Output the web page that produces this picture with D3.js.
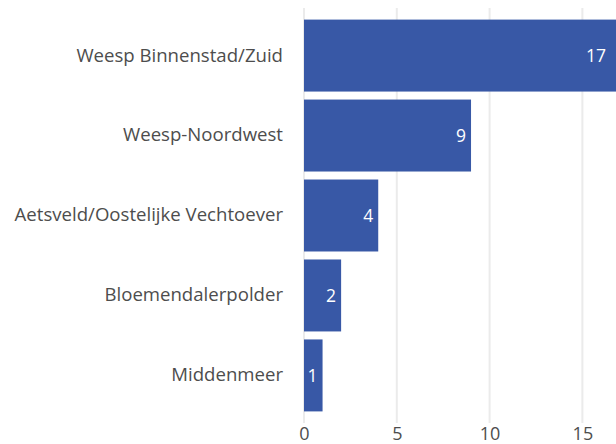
<!DOCTYPE html>
<html>
<head>
<meta charset="utf-8" />
<title>Bar chart</title>
<script src="https://d3js.org/d3.v7.min.js"></script>
<style>
  body { margin: 0; background: #fff; }
  text { font-family: "Open Sans", Lato, sans-serif; fill: #4d4d4d; }
</style>
</head>
<body>
<div id="chart"></div>
<script>
var categories = ["Weesp Binnenstad/Zuid", "Weesp-Noordwest", "Aetsveld/Oostelijke Vechtoever", "Bloemendalerpolder", "Middenmeer"];
var values = [17, 9, 4, 2, 1];
var xTicks = [0, 5, 10, 15];

var width = 616, height = 444;
var margin = { top: 8, right: 0, bottom: 21, left: 304 };

var svg = d3.select("#chart").append("svg")
    .attr("width", width)
    .attr("height", height);

// x scale runs a little past the window, so the 17 bar is cut at the edge
var x = d3.scaleLinear()
    .domain([0, 17])
    .range([margin.left, 619.5]);

var y = d3.scaleBand()
    .domain(categories)
    .range([margin.top, height - margin.bottom])
    .paddingInner(0.1)
    .paddingOuter(0.145);

// grid
svg.append("g")
    .selectAll("line")
    .data(xTicks)
    .enter().append("line")
    .attr("x1", function (d) { return x(d); })
    .attr("x2", function (d) { return x(d); })
    .attr("y1", margin.top)
    .attr("y2", height - margin.bottom)
    .style("stroke", "#ebebeb")
    .style("stroke-width", 2);

// bars
svg.append("g")
    .selectAll("rect")
    .data(values)
    .enter().append("rect")
    .attr("x", x(0))
    .attr("y", function (d, i) { return y(categories[i]); })
    .attr("width", function (d) { return x(d) - x(0); })
    .attr("height", y.bandwidth())
    .style("fill", "#3858a6");

// value labels
svg.append("g")
    .selectAll("text")
    .data(values)
    .enter().append("text")
    .attr("y", function (d, i) { return y(categories[i]) + y.bandwidth() / 2; })
    .attr("dy", "0.35em")
    .attr("text-anchor", "end")
    .style("font-size", "17.5px")
    .style("fill", "#ffffff")
    .text(function (d) { return d; })
    .attr("x", function (d) {
        var w = this.getComputedTextLength();
        return Math.min(x(d), width) - w * 0.5;
    });

// y axis labels
var yAxis = d3.axisLeft(y).tickSize(0).tickPadding(20);
svg.append("g")
    .attr("transform", "translate(" + (margin.left - 1) + ",0)")
    .call(yAxis)
    .call(function (g) { g.select(".domain").remove(); })
    .selectAll("text")
    .style("font-size", "18.6px")
    .style("fill", "#4d4d4d")
    .style("font-family", "'Open Sans', Lato, sans-serif");

// x axis labels
var xAxis = d3.axisBottom(x).tickValues(xTicks).tickSize(0).tickPadding(4);
svg.append("g")
    .attr("transform", "translate(0," + (height - margin.bottom) + ")")
    .call(xAxis)
    .call(function (g) { g.select(".domain").remove(); })
    .selectAll("text")
    .style("font-size", "18px")
    .style("fill", "#4d4d4d")
    .style("font-family", "'Open Sans', Lato, sans-serif");
</script>
</body>
</html>
